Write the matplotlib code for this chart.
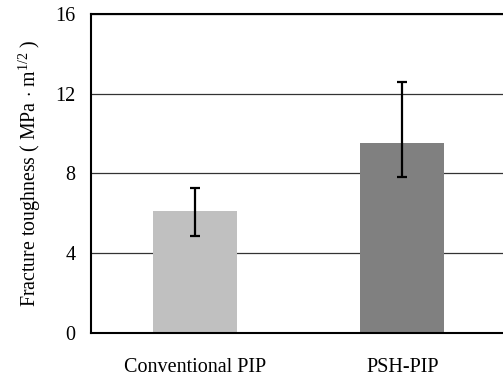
import matplotlib.pyplot as plt

plt.rcParams['font.family'] = ['Liberation Serif', 'DejaVu Serif']
plt.rcParams['mathtext.fontset'] = 'custom'
plt.rcParams['mathtext.rm'] = 'Liberation Serif'
plt.rcParams['mathtext.it'] = 'Liberation Serif:italic'

groups = ['Conventional PIP', 'PSH-PIP']
toughness = [6.1, 9.55]
err_low = [1.25, 1.75]
err_high = [1.15, 3.05]
colors = ['#c0c0c0', '#808080']

fig = plt.figure(figsize=(5.03, 3.76), dpi=100)
# axes runs past the right border, as in the original (cut off)
ax = fig.add_axes([91 / 503, 1 - 333 / 376, 415 / 503, 319 / 376])

x = list(range(len(groups)))
ax.bar(x, toughness, width=0.405, color=colors, zorder=2)
ax.errorbar(x, toughness, yerr=[err_low, err_high], fmt='none',
            ecolor='black', elinewidth=1.6, capsize=3.5, capthick=1.6, zorder=3)

ax.set_xlim(-0.5, 1.5)
ax.set_ylim(0, 16)
ax.set_yticks([0, 4, 8, 12, 16])
ax.yaxis.grid(True, color='#333333', linewidth=0.9, zorder=1)
ax.set_axisbelow(True)

ax.set_xticks(x)
ax.set_xticklabels(groups, fontsize=14.5)
ax.tick_params(axis='x', length=0, pad=18)
ax.tick_params(axis='y', length=0, pad=11, labelsize=14.5)

for s in ['left', 'bottom', 'top']:
    ax.spines[s].set_linewidth(1.5)
    ax.spines[s].set_color('black')
ax.spines['right'].set_visible(False)

ax.set_ylabel(r'Fracture toughness ( MPa$\,\cdot\,$m$^{1/2}$ )', fontsize=14.3, labelpad=9)

fig.savefig('out.png', dpi=100)
